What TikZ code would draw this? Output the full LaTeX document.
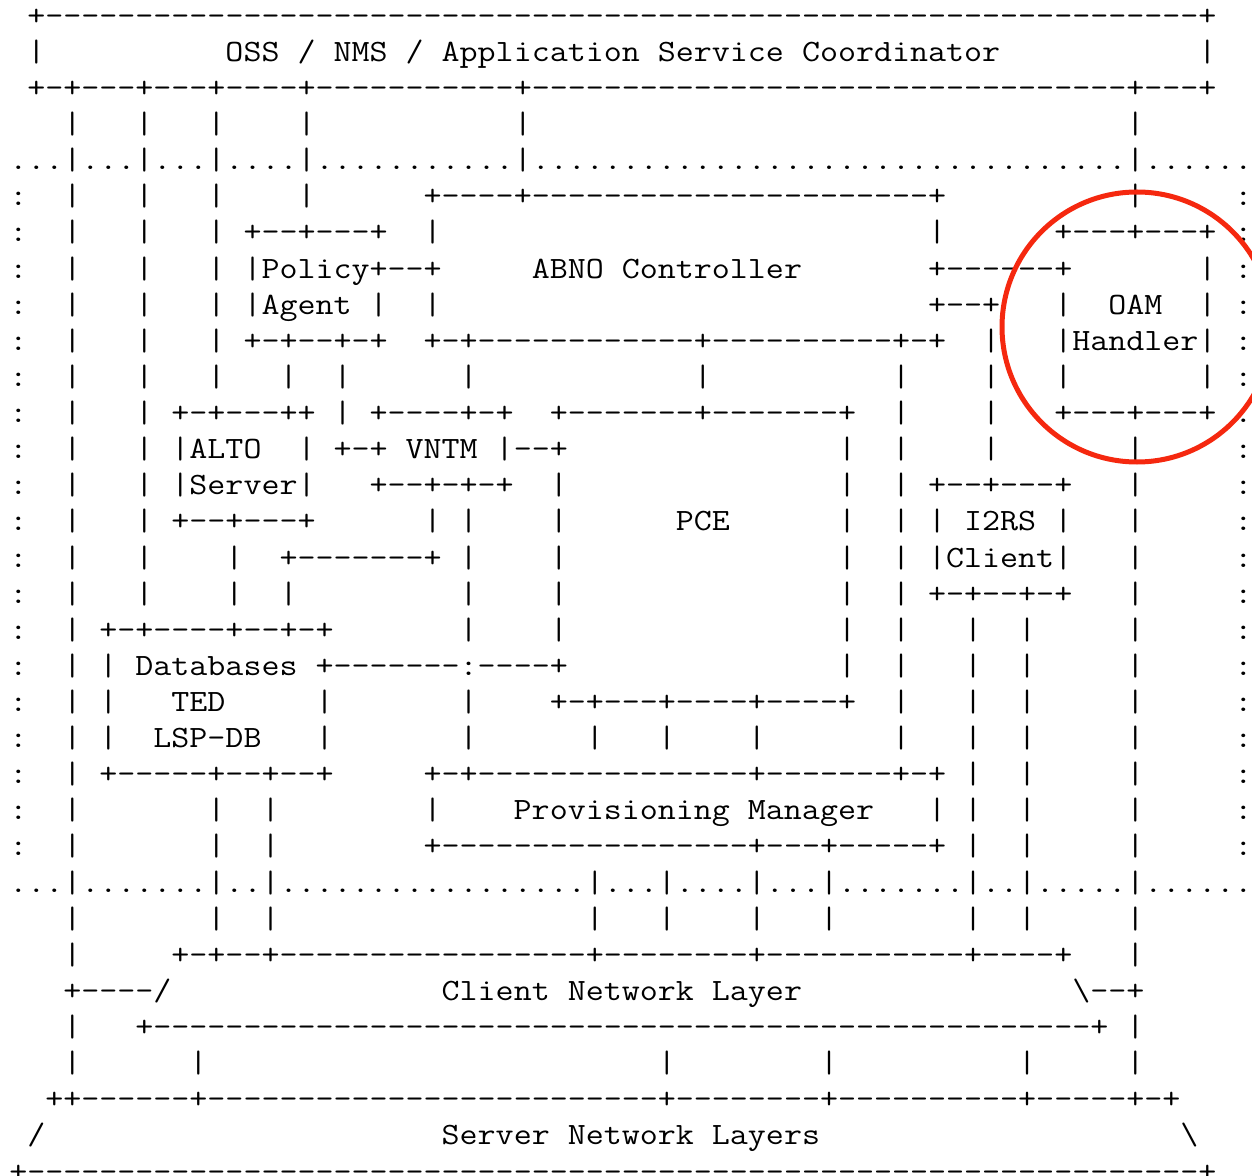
\documentclass[tikz,border=0pt]{standalone}
\usepackage{graphicx}
\usetikzlibrary{shapes.geometric}

% character runs for the monospaced rows
\ExplSyntaxOn
\cs_new:Npn \gaps #1 { \prg_replicate:nn {#1} { \nobreakspace } }
\cs_new:Npn \dashes #1 { \prg_replicate:nn {#1} { - } }
\cs_new:Npn \dotrun #1 { \prg_replicate:nn {#1} { . } }
\ExplSyntaxOff

\newcommand\asciifont{\fontsize{15.5pt}{15.5pt}\selectfont\ttfamily}
% one character cell = 9pt wide
\newcommand\row[1]{\scalebox{1.1285}[1]{#1}}
\newcommand\bs{\textbackslash}
\definecolor{markred}{RGB}{245,40,15}

\tikzset{
  ascii/.style={anchor=base west, inner sep=0pt, outer sep=0pt, font=\asciifont},
  ring/.style={draw=markred, line width=2.5pt, circle, minimum size=135pt, inner sep=0pt}
}

\begin{document}
\begin{tikzpicture}[x=0.5pt, y=-0.5pt]
\fill[white] (0,0) rectangle (1252,1176);
\useasboundingbox (0,0) rectangle (1252,1176);

\def\bx{9.3}
\node[ascii] (r0)  at (\bx,{25.2+36.12*0})  {\row{\gaps{1}+\dashes{64}+}};
\node[ascii] (r1)  at (\bx,{25.2+36.12*1})  {\row{\gaps{1}|\gaps{10}OSS~/~NMS~/~Application~Service~Coordinator\gaps{11}|}};
\node[ascii] (r2)  at (\bx,{25.2+36.12*2})  {\row{\gaps{1}+-+---+---+----+\dashes{11}+\dashes{33}+---+}};
\node[ascii] (r3)  at (\bx,{25.2+36.12*3})  {\row{\gaps{3}|\gaps{3}|\gaps{3}|\gaps{4}|\gaps{11}|\gaps{33}|}};
\node[ascii] (r4)  at (\bx,{25.2+36.12*4})  {\row{\dotrun{3}|\dotrun{3}|\dotrun{3}|\dotrun{4}|\dotrun{11}|\dotrun{33}|\dotrun{6}}};
\node[ascii] (r5)  at (\bx,{25.2+36.12*5})  {\row{:\gaps{2}|\gaps{3}|\gaps{3}|\gaps{4}|\gaps{6}+----+\dashes{22}+\gaps{10}|\gaps{5}:}};
\node[ascii] (r6)  at (\bx,{25.2+36.12*6})  {\row{:\gaps{2}|\gaps{3}|\gaps{3}|\gaps{1}+--+---+\gaps{2}|\gaps{27}|\gaps{6}+---+---+\gaps{1}:}};
\node[ascii] (r7)  at (\bx,{25.2+36.12*7})  {\row{:\gaps{2}|\gaps{3}|\gaps{3}|\gaps{1}|Policy+--+\gaps{5}ABNO~Controller\gaps{7}+\dashes{6}+\gaps{7}|\gaps{1}:}};
\node[ascii] (r8)  at (\bx,{25.2+36.12*8})  {\row{:\gaps{2}|\gaps{3}|\gaps{3}|\gaps{1}|Agent~|\gaps{2}|\gaps{27}+--+\gaps{3}|\gaps{2}OAM\gaps{2}|\gaps{1}:}};
\node[ascii] (r9)  at (\bx,{25.2+36.12*9})  {\row{:\gaps{2}|\gaps{3}|\gaps{3}|\gaps{1}+-+--+-+\gaps{2}+-+\dashes{12}+\dashes{10}+-+\gaps{2}|\gaps{3}|Handler|\gaps{1}:}};
\node[ascii] (r10) at (\bx,{25.2+36.12*10}) {\row{:\gaps{2}|\gaps{3}|\gaps{3}|\gaps{3}|\gaps{2}|\gaps{6}|\gaps{12}|\gaps{10}|\gaps{4}|\gaps{3}|\gaps{7}|\gaps{1}:}};
\node[ascii] (r11) at (\bx,{25.2+36.12*11}) {\row{:\gaps{2}|\gaps{3}|\gaps{1}+-+---++\gaps{1}|\gaps{1}+----+-+\gaps{2}+\dashes{7}+\dashes{7}+\gaps{2}|\gaps{4}|\gaps{3}+---+---+\gaps{1}:}};
\node[ascii] (r12) at (\bx,{25.2+36.12*12}) {\row{:\gaps{2}|\gaps{3}|\gaps{1}|ALTO\gaps{2}|\gaps{1}+-+\gaps{1}VNTM\gaps{1}|--+\gaps{15}|\gaps{2}|\gaps{4}|\gaps{7}|\gaps{5}:}};
\node[ascii] (r13) at (\bx,{25.2+36.12*13}) {\row{:\gaps{2}|\gaps{3}|\gaps{1}|Server|\gaps{3}+--+-+-+\gaps{2}|\gaps{15}|\gaps{2}|\gaps{1}+--+---+\gaps{3}|\gaps{5}:}};
\node[ascii] (r14) at (\bx,{25.2+36.12*14}) {\row{:\gaps{2}|\gaps{3}|\gaps{1}+--+---+\gaps{6}|\gaps{1}|\gaps{4}|\gaps{6}PCE\gaps{6}|\gaps{2}|\gaps{1}|~I2RS~|\gaps{3}|\gaps{5}:}};
\node[ascii] (r15) at (\bx,{25.2+36.12*15}) {\row{:\gaps{2}|\gaps{3}|\gaps{4}|\gaps{2}+\dashes{7}+\gaps{1}|\gaps{4}|\gaps{15}|\gaps{2}|\gaps{1}|Client|\gaps{3}|\gaps{5}:}};
\node[ascii] (r16) at (\bx,{25.2+36.12*16}) {\row{:\gaps{2}|\gaps{3}|\gaps{4}|\gaps{2}|\gaps{9}|\gaps{4}|\gaps{15}|\gaps{2}|\gaps{1}+-+--+-+\gaps{3}|\gaps{5}:}};
\node[ascii] (r17) at (\bx,{25.2+36.12*17}) {\row{:\gaps{2}|\gaps{1}+-+----+--+-+\gaps{7}|\gaps{4}|\gaps{15}|\gaps{2}|\gaps{3}|\gaps{2}|\gaps{5}|\gaps{5}:}};
\node[ascii] (r18) at (\bx,{25.2+36.12*18}) {\row{:\gaps{2}|\gaps{1}|\gaps{1}Databases\gaps{1}+\dashes{7}:----+\gaps{15}|\gaps{2}|\gaps{3}|\gaps{2}|\gaps{5}|\gaps{5}:}};
\node[ascii] (r19) at (\bx,{25.2+36.12*19}) {\row{:\gaps{2}|\gaps{1}|\gaps{3}TED\gaps{5}|\gaps{7}|\gaps{4}+-+---+----+----+\gaps{2}|\gaps{3}|\gaps{2}|\gaps{5}|\gaps{5}:}};
\node[ascii] (r20) at (\bx,{25.2+36.12*20}) {\row{:\gaps{2}|\gaps{1}|\gaps{2}LSP-DB\gaps{3}|\gaps{7}|\gaps{6}|\gaps{3}|\gaps{4}|\gaps{7}|\gaps{3}|\gaps{2}|\gaps{5}|\gaps{5}:}};
\node[ascii] (r21) at (\bx,{25.2+36.12*21}) {\row{:\gaps{2}|\gaps{1}+-----+--+--+\gaps{5}+-+\dashes{15}+\dashes{7}+-+\gaps{1}|\gaps{2}|\gaps{5}|\gaps{5}:}};
\node[ascii] (r22) at (\bx,{25.2+36.12*22}) {\row{:\gaps{2}|\gaps{7}|\gaps{2}|\gaps{8}|\gaps{4}Provisioning~Manager\gaps{3}|\gaps{1}|\gaps{2}|\gaps{5}|\gaps{5}:}};
\node[ascii] (r23) at (\bx,{25.2+36.12*23}) {\row{:\gaps{2}|\gaps{7}|\gaps{2}|\gaps{8}+\dashes{17}+---+\dashes{5}+\gaps{1}|\gaps{2}|\gaps{5}|\gaps{5}:}};
\node[ascii] (r24) at (\bx,{25.2+36.12*24}) {\row{\dotrun{3}|\dotrun{7}|\dotrun{2}|\dotrun{17}|\dotrun{3}|\dotrun{4}|\dotrun{3}|\dotrun{7}|\dotrun{2}|\dotrun{5}|\dotrun{6}}};
\node[ascii] (r25) at (\bx,{25.2+36.12*25}) {\row{\gaps{3}|\gaps{7}|\gaps{2}|\gaps{17}|\gaps{3}|\gaps{4}|\gaps{3}|\gaps{7}|\gaps{2}|\gaps{5}|}};
\node[ascii] (r26) at (\bx,{25.2+36.12*26}) {\row{\gaps{3}|\gaps{5}+-+--+\dashes{17}+\dashes{8}+\dashes{11}+----+\gaps{3}|}};
\node[ascii] (r27) at (\bx,{25.2+36.12*27}) {\row{\gaps{3}+----/\gaps{15}Client~Network~Layer\gaps{15}\bs--+}};
\node[ascii] (r28) at (\bx,{25.2+36.12*28}) {\row{\gaps{3}|\gaps{3}+\dashes{52}+\gaps{1}|}};
\node[ascii] (r29) at (\bx,{25.2+36.12*29}) {\row{\gaps{3}|\gaps{6}|\gaps{25}|\gaps{8}|\gaps{10}|\gaps{5}|}};
\node[ascii] (r30) at (\bx,{25.2+36.12*30}) {\row{\gaps{2}++\dashes{6}+\dashes{25}+\dashes{8}+\dashes{10}+\dashes{5}+-+}};
\node[ascii] (r31) at (\bx,{25.2+36.12*31}) {\row{\gaps{1}/\gaps{22}Server~Network~Layers\gaps{20}\bs}};
\node[ascii] (r32) at (\bx,{25.2+36.12*32}) {\row{+\dashes{65}+}};

% highlight round the OAM Handler
\node[ring] (oamring) at (1137,327) {};
\end{tikzpicture}
\end{document}
